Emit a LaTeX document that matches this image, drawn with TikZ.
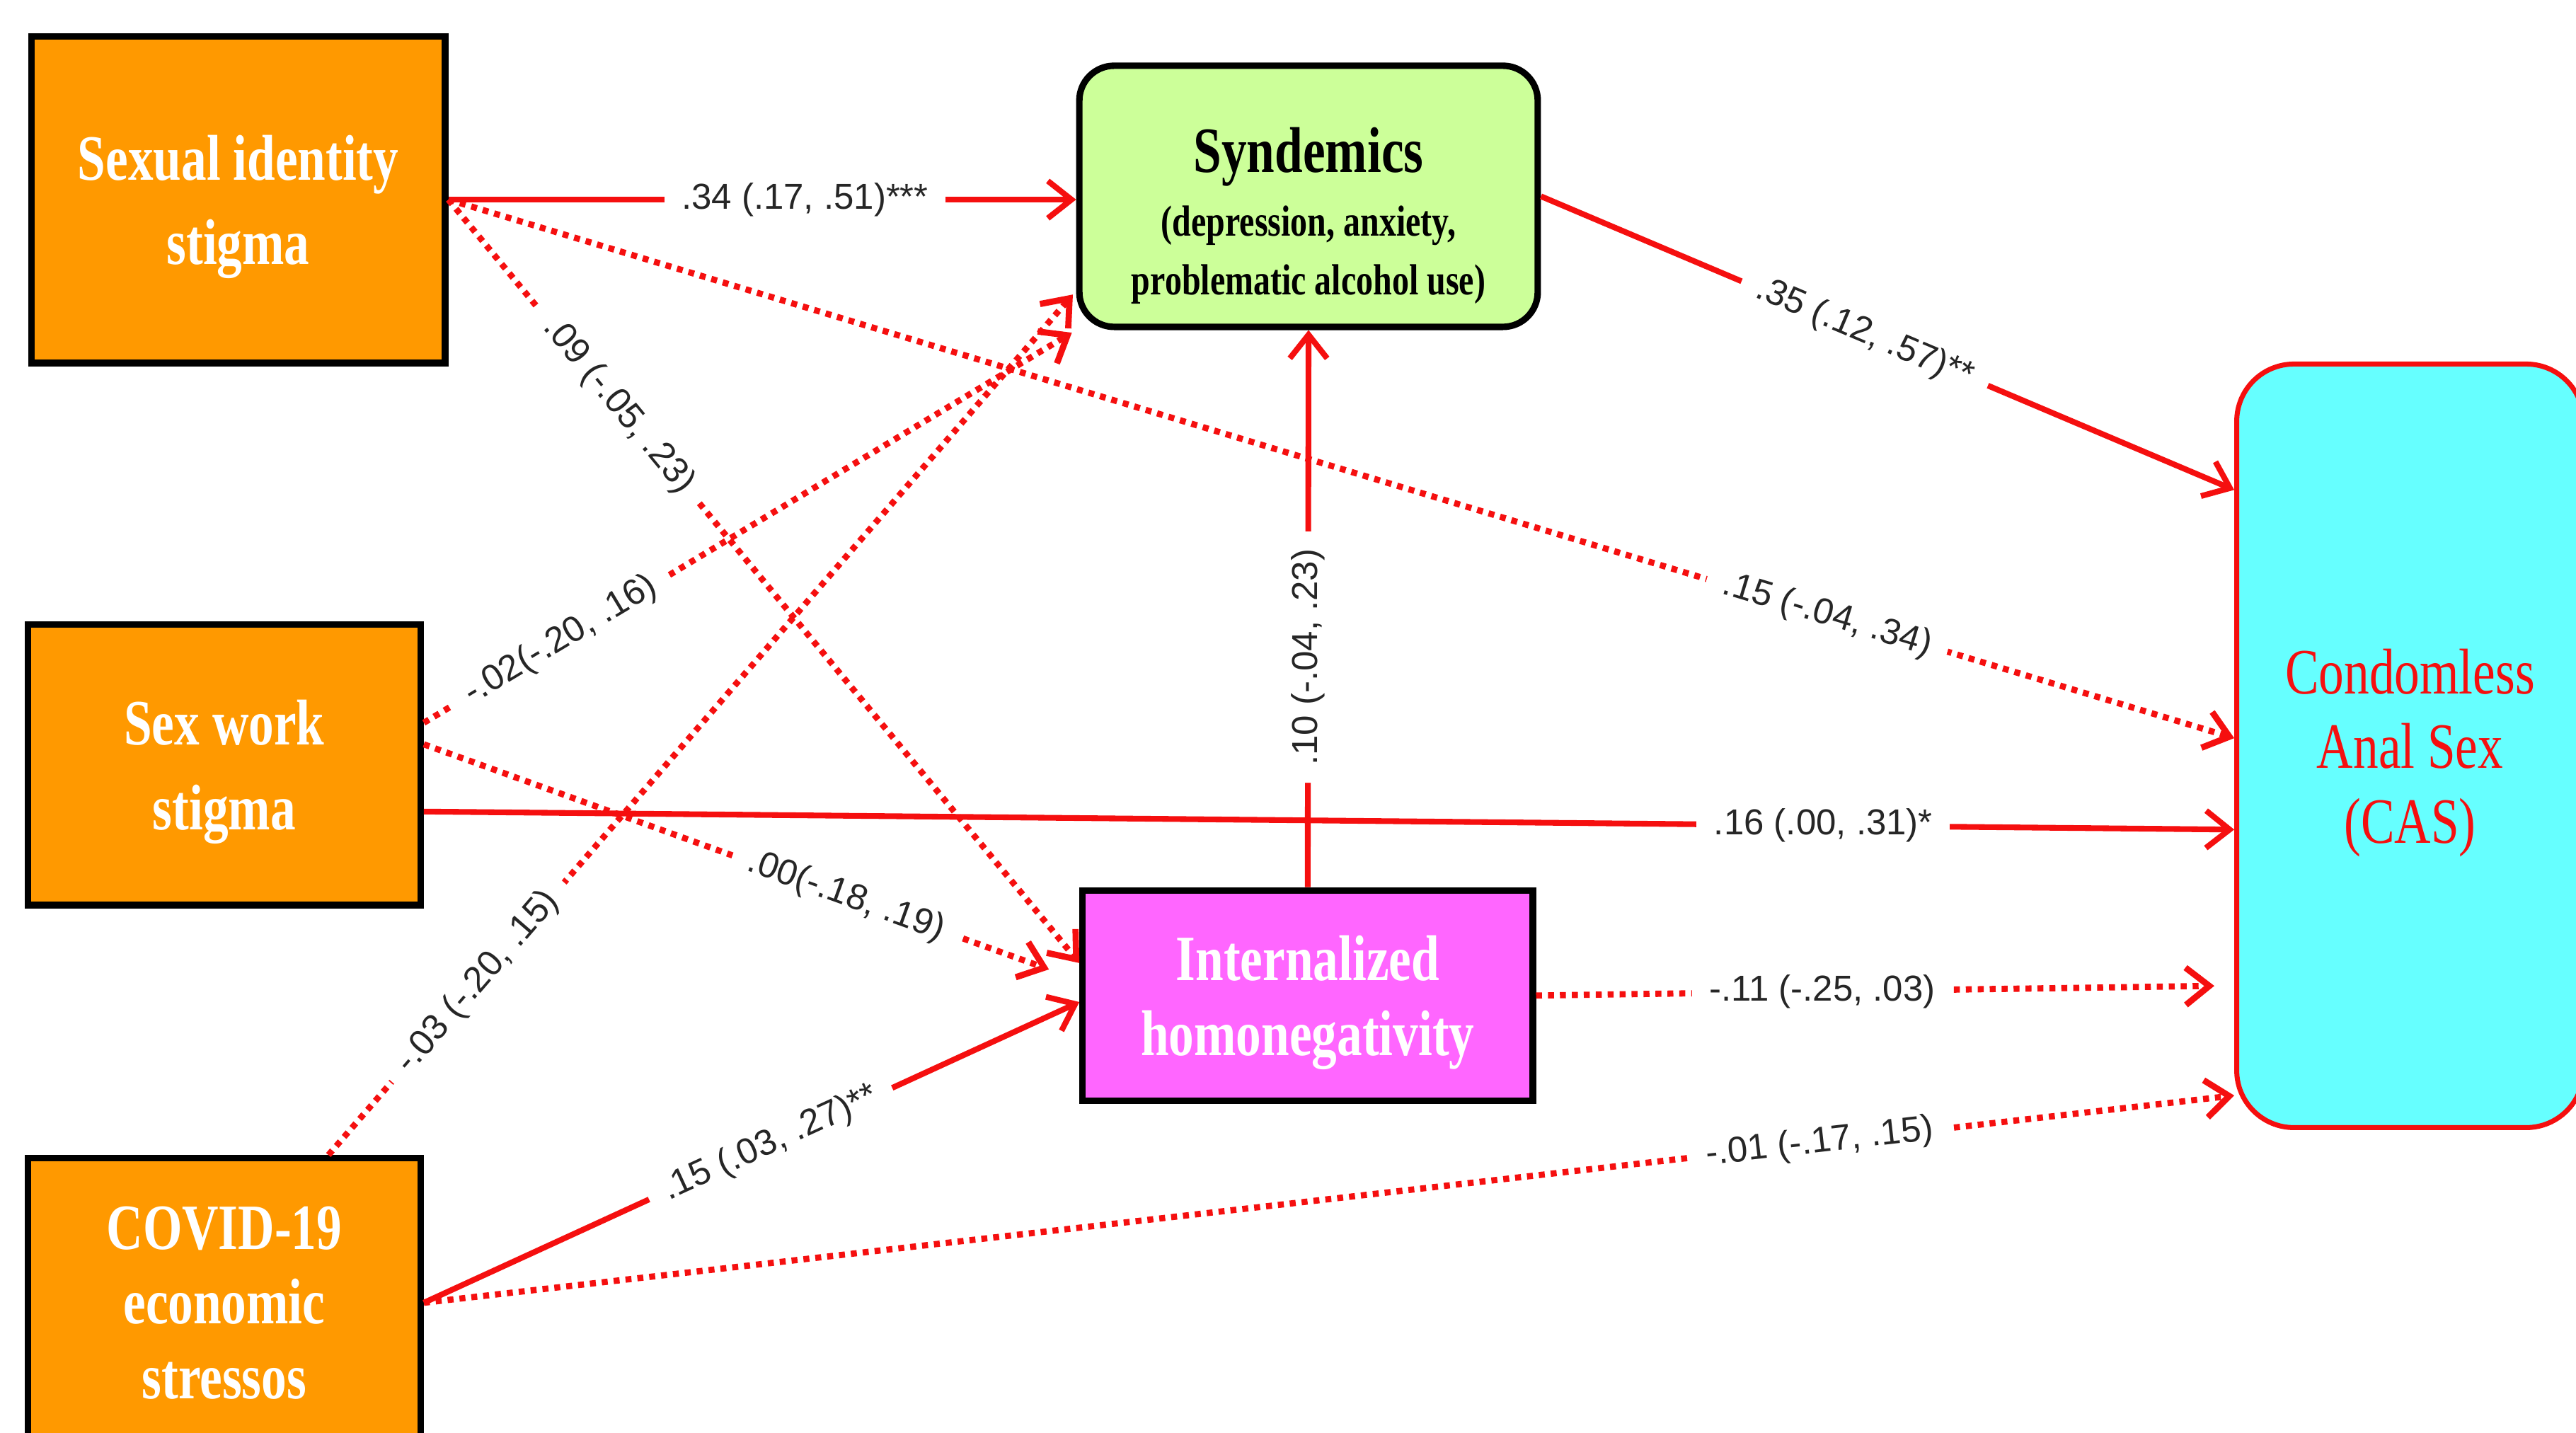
\documentclass[tikz,border=0pt]{standalone}
\usepackage{fontspec}
\setmainfont{Liberation Serif}
\newfontfamily\boxfont[FakeStretch=0.78]{Liberation Serif}
\newfontfamily\labfont{Liberation Sans}
\usetikzlibrary{arrows.meta,calc}
\definecolor{cred}{RGB}{245,15,15}
\definecolor{corange}{RGB}{255,153,0}
\definecolor{cgreen}{RGB}{204,255,153}
\definecolor{cmag}{RGB}{255,102,255}
\definecolor{ccyan}{RGB}{102,255,255}
\begin{document}
\begin{tikzpicture}[x=0.6605pt,y=-0.6605pt,
 boxstyle/.style={draw=black, line width=2.6pt, align=center, inner sep=0pt},
 whitetext/.style={text=white, font=\boxfont\bfseries\fontsize{26}{34}\selectfont},
 sig/.style={draw=cred, line width=2.3pt, -{Straight Barb[length=9.5pt,width=15pt]}},
 nsig/.style={draw=cred, line width=2.5pt, dash pattern=on 2.4pt off 2.4pt, -{Straight Barb[length=9.5pt,width=15pt]}},
 lab/.style={fill=white, font=\labfont\fontsize{14.5}{16}\selectfont, text=black!85, inner xsep=7pt, inner ysep=1pt}
]
\useasboundingbox[fill=white] (0,0) rectangle (1568,872);

% nodes
\node[boxstyle, fill=corange, minimum width=166.4pt, minimum height=131.4pt, whitetext, text depth=0pt] (sis) at (145,121.5) {Sexual identity\\stigma};
\node[boxstyle, fill=corange, minimum width=157.9pt, minimum height=112.9pt, whitetext, text depth=0pt] (sws) at (136.5,465.5) {Sex work\\stigma};
\node[boxstyle, fill=corange, minimum width=157.9pt, minimum height=116.2pt, text=white, font=\boxfont\bfseries\fontsize{26}{30}\selectfont] (cov) at (136.5,793) {COVID-19\\economic\\stressos};
\node[boxstyle, fill=cgreen, rounded corners=14pt, minimum width=184.3pt, minimum height=105pt, font=\boxfont\bfseries, text height=79pt, text depth=0pt] (syn) at (796.5,119.5)
 {\fontsize{26}{30}\selectfont Syndemics\\[7pt]\fontsize{17.5}{23}\selectfont (depression, anxiety,\\[6.5pt]\fontsize{17.5}{23}\selectfont problematic alcohol use)};
\node[boxstyle, fill=cmag, minimum width=181pt, minimum height=84.5pt, text=white, font=\boxfont\bfseries\fontsize{26}{30}\selectfont, text depth=0pt] (ih) at (796,606) {Internalized\\homonegativity};
\node[draw=cred, line width=2pt, fill=ccyan, rounded corners=23pt, minimum width=139.4pt, minimum height=307pt, align=center, inner sep=0pt, text=cred, font=\boxfont\fontsize{26}{30}\selectfont, text depth=0pt] (cas) at (1467,454) {Condomless\\Anal Sex\\(CAS)};

% endpoints
\coordinate (swsA) at ($(sws.north east)!0.354!(sws.south east)$);
\coordinate (swsB) at ($(sws.north east)!0.429!(sws.south east)$);
\coordinate (swsC) at ($(sws.north east)!0.663!(sws.south east)$);
\coordinate (covT) at ($(cov.north west)!0.761!(cov.north east)$);
\coordinate (synL) at ($(syn.north west)!0.853!(syn.south west)$);
\coordinate (ihA) at ($(ih.north west)!0.35!(ih.south west)$);
\coordinate (ihB) at ($(ih.north west)!0.43!(ih.south west)$);
\coordinate (ihC) at ($(ih.north west)!0.53!(ih.south west)$);
\coordinate (casA) at ($(cas.north west)!0.167!(cas.south west)$);
\coordinate (casB) at ($(cas.north west)!0.490!(cas.south west)$);
\coordinate (casC) at ($(cas.north west)!0.609!(cas.south west)$);
\coordinate (casD) at ($(cas.north west)!0.812!(cas.south west)$);
\coordinate (casE) at ($(cas.north west)!0.955!(cas.south west)$);

% connectors
\draw[sig] (sis.east) -- node[lab, pos=0.568]{.34 (.17, .51)***} (sis.east -| syn.west);
\draw[nsig] (sis.east) -- node[lab, sloped, pos=0.772]{.15 (-.04, .34)} (casB);
\draw[nsig] (sis.east) -- node[lab, sloped, pos=0.27]{.09 (-.05, .23)} (ihA);
\draw[nsig, shorten >=2pt] (swsA) -- node[lab, sloped, pos=0.21]{-.02(-.20, .16)} (syn.south west);
\draw[nsig, shorten >=13pt] (swsB) -- node[lab, sloped, pos=0.644]{.00(-.18, .19)} (ihB);
\draw[sig] (swsC) -- node[lab, pos=0.773]{.16 (.00, .31)*} (casC);
\draw[nsig, shorten >=2pt] (covT) -- node[lab, sloped, pos=0.2]{-.03 (-.20, .15)} (synL);
\draw[sig] (cov.east) -- node[lab, sloped, pos=0.529]{.15 (.03, .27)**} (ihC);
\draw[nsig] (cov.east) -- node[lab, sloped, pos=0.771]{-.01 (-.17, .15)} (casE);
\draw[sig] (ih.north) -- node[lab, sloped, pos=0.413]{.10 (-.04, .23)} (syn.south);
\draw[nsig, shorten >=8pt] (ih.east) -- node[lab, pos=0.41]{-.11 (-.25, .03)} (casD);
\draw[sig] (syn.east) -- node[lab, sloped, pos=0.467]{.35 (.12, .57)**} (casA);
\end{tikzpicture}
\end{document}
